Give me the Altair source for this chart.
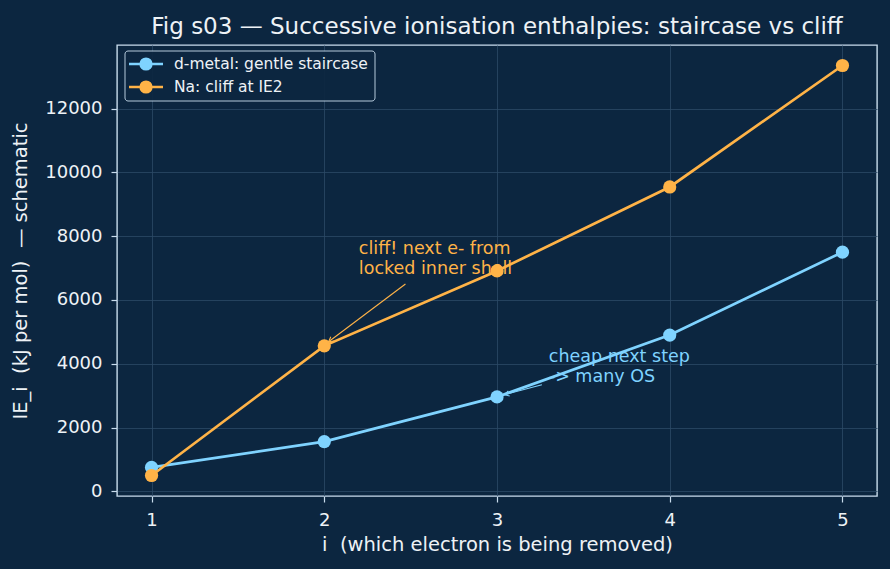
import altair as alt
import pandas as pd

# ---- data ----
electron_i = [1, 2, 3, 4, 5]
d_metal = [750, 1560, 2960, 4900, 7500]
sodium = [496, 4562, 6912, 9544, 13353]
series_names = ["d-metal: gentle staircase", "Na: cliff at IE2"]
series_colors = ["#7fd3ff", "#ffb347"]
y_ticks = [0, 2000, 4000, 6000, 8000, 10000, 12000]

# annotations: text position (first-line baseline), arrow start, arrow tip
ann_text = ["cliff! next e- from\nlocked inner shell", "cheap next step\n-> many OS"]
ann_tx = [2.2, 3.3]
ann_ty = [7450, 4060]
ann_x0 = [2.47, 3.26]
ann_y0 = [6500, 3340]
ann_x1 = [2.025, 3.043]
ann_y1 = [4690, 3030]
ann_angle = [233, 255]

BG = "#0c2640"
FG = "#eef2f6"
FRAME = "#c9dced"
GRID = "#2c4a66"
FONT = "DejaVu Sans"

allv = d_metal + sodium
span = max(allv) - min(allv)
ydom = [min(allv) - 0.05 * span, max(allv) + 0.05 * span]
xdom = [0.8, 5.2]

df = pd.DataFrame({
    "i": electron_i * 2,
    "IE": d_metal + sodium,
    "series": [series_names[0]] * 5 + [series_names[1]] * 5,
})

x_enc = alt.X("i:Q", scale=alt.Scale(domain=xdom, nice=False, zero=False),
              axis=alt.Axis(values=electron_i, format="d",
                            title="i\u00a0 (which electron is being removed)"))
y_enc = alt.Y("IE:Q", scale=alt.Scale(domain=ydom, nice=False, zero=False),
              axis=alt.Axis(values=y_ticks, format="d",
                            title="IE_i\u00a0 (kJ per mol)\u00a0 \u2014 schematic"))

layers = []
for name, col in zip(series_names, series_colors):
    base = alt.Chart(df).transform_filter(alt.datum.series == name)
    layers.append(base.mark_line(color=col, strokeWidth=2.7).encode(x=x_enc, y=y_enc))
    layers.append(base.mark_circle(color=col, size=175, opacity=1).encode(x=x_enc, y=y_enc))

ann = pd.DataFrame({
    "text": ann_text, "tx": ann_tx, "ty": ann_ty,
    "x0": ann_x0, "y0": ann_y0, "x1": ann_x1, "y1": ann_y1,
    "angle": ann_angle, "col": series_colors[::-1],
})
color_id = alt.Color("col:N", scale=None)
arrow_line = alt.Chart(ann).mark_rule(strokeWidth=1.1).encode(
    x="x0:Q", y="y0:Q", x2="x1:Q", y2="y1:Q", color=color_id)
arrow_head = alt.Chart(ann).mark_point(
    shape="M-0.55,1 L0,0 L0.55,1", filled=False, size=90, strokeWidth=1.1, opacity=1
).encode(x="x1:Q", y="y1:Q", angle=alt.Angle("angle:Q", scale=None), color=color_id)
ann_txt = alt.Chart(ann).mark_text(
    align="left", baseline="alphabetic", fontSize=17.5, font=FONT, lineBreak="\n", lineHeight=20
).encode(x="tx:Q", y="ty:Q", text="text:N", color=color_id)

# legend drawn inside the plot
leg_box = alt.Chart(pd.DataFrame({"a": [0]})).mark_rect(
    fill=BG, stroke=FRAME, strokeWidth=1, cornerRadius=3, opacity=0.9
).encode(x=alt.value(8), x2=alt.value(258), y=alt.value(6), y2=alt.value(56))
leg_layers = [leg_box]
for k, (name, col) in enumerate(zip(series_names, series_colors)):
    yy = 19 + 23 * k
    d1 = pd.DataFrame({"label": [name]})
    leg_layers.append(alt.Chart(d1).mark_rule(color=col, strokeWidth=2.7).encode(
        x=alt.value(12), x2=alt.value(46), y=alt.value(yy)))
    leg_layers.append(alt.Chart(d1).mark_circle(color=col, size=175, opacity=1).encode(
        x=alt.value(29), y=alt.value(yy)))
    leg_layers.append(alt.Chart(d1).mark_text(
        align="left", baseline="middle", fontSize=15.5, font=FONT, color=FG
    ).encode(x=alt.value(57), y=alt.value(yy), text="label:N"))

chart = alt.layer(*layers, arrow_line, arrow_head, ann_txt, *leg_layers).properties(
    width=760, height=451,
    autosize=alt.AutoSizeParams(type="none"),
    padding={"left": 117, "top": 45, "right": 13, "bottom": 73},
    background=BG,
    title=alt.TitleParams(
        "Fig s03 \u2014 Successive ionisation enthalpies: staircase vs cliff",
        fontSize=23, font=FONT, fontWeight="normal", color=FG, frame="group",
        anchor="middle", baseline="alphabetic", offset=-12),
).configure_view(
    stroke=FRAME, strokeWidth=1.4, fill=BG
).configure_axis(
    domain=False, grid=True, gridColor=GRID, gridWidth=0.8,
    tickColor=FRAME, tickSize=6, tickWidth=1.2,
    labelColor=FG, labelFont=FONT, labelFontSize=18, labelPadding=9,
    titleColor=FG, titleFont=FONT, titleFontSize=19.5, titleFontWeight="normal",
)
chart = chart.configure_axisX(titlePadding=6).configure_axisY(titlePadding=14)

chart.save("out.html", embed_options={"renderer": "svg", "actions": False})
